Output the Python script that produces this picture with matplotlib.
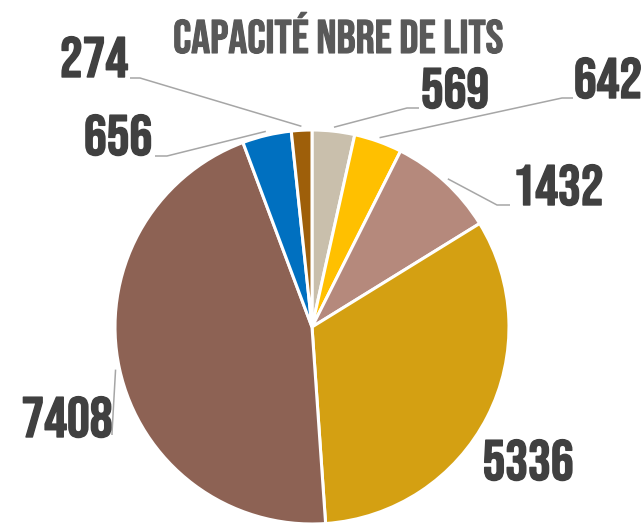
import matplotlib.pyplot as plt
import matplotlib.patheffects as pe
import numpy as np

# data
categories = ["A", "B", "C", "D", "E", "F", "G"]
values = [569, 642, 1432, 5336, 7408, 656, 274]
colors = ["#C9BFAC", "#FFC000", "#B5897C", "#D4A012", "#8D6254", "#0070C0", "#9E5F0A"]
title = "CAPACITÉ NBRE DE LITS"

# layout (pixel coords, y down)
cx, cy, r = 312, 327, 197
label_pos = [(455, 108), (608, 98), (558, 205), (528, 480), (67, 437), (118, 155), (94, 77)]
# leader: (start point near text, elbow) or None
leaders = [
    ((419, 108), (407, 108)),
    ((573, 98), (562, 98)),
    ((510, 205), (497, 205)),
    None,
    ((112, 435), (112, 433)),
    ((155, 156), (167, 156)),
    ((130, 78), (140, 78)),
]

fonts = ["Bebas Neue", "DejaVu Sans"]

fig = plt.figure(figsize=(6.44, 5.26), dpi=100)
ax = fig.add_axes([0, 0, 1, 1])
ax.set_xlim(0, 644)
ax.set_ylim(526, 0)
ax.set_aspect("equal")
ax.axis("off")

wedges, _ = ax.pie(values, colors=colors, center=(cx, cy), radius=r,
                   startangle=-90, counterclock=True,
                   wedgeprops=dict(edgecolor="white", linewidth=2.2))
ax.set_xlim(0, 644)
ax.set_ylim(526, 0)

total = sum(values)
cum = np.cumsum([0] + values[:-1])
for i, v in enumerate(values):
    mid = np.deg2rad(-90 + 360 * (cum[i] + v / 2) / total)
    ax_, ay_ = cx + (r + 4) * np.cos(mid), cy + (r + 4) * np.sin(mid)
    tx, ty = label_pos[i]
    ax.text(tx, ty, str(v), ha="center", va="baseline", fontsize=41,
            color="#404040", family=fonts,
            path_effects=[pe.withStroke(linewidth=1.0, foreground="#404040")])
    if leaders[i] is not None:
        (sx, sy), (ex, ey) = leaders[i]
        ax.plot([sx, ex, ax_], [sy, ey, ay_], color="#A6A6A6", lw=1.1,
                solid_capstyle="butt")

ax.text(338, 53, title, ha="center", va="baseline", fontsize=34,
        color="#595959", family=fonts,
        path_effects=[pe.withStroke(linewidth=0.8, foreground="#595959")])

fig.savefig("out.png", dpi=100)
